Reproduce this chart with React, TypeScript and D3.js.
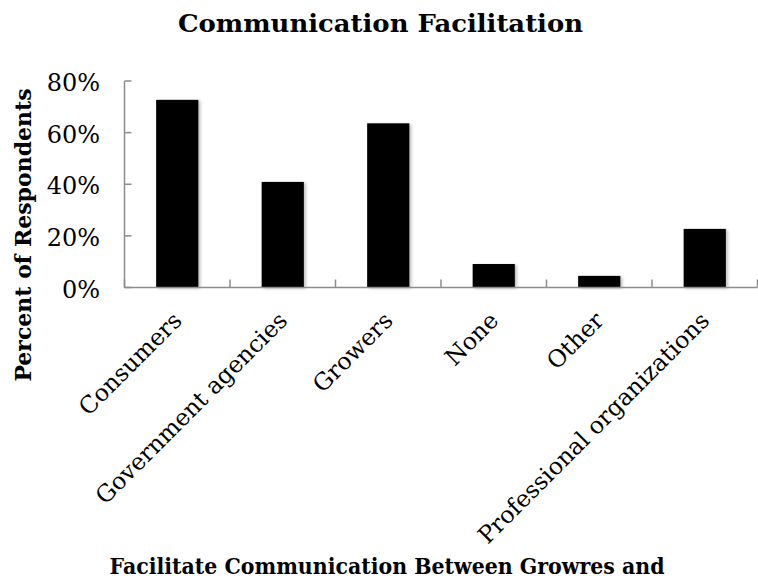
import React from "react";
import * as d3 from "d3";

const categories = ["Consumers", "Government agencies", "Growers", "None", "Other", "Professional organizations"];
const percentValues = [72.7, 40.9, 63.6, 9.1, 4.5, 22.7];
const yTicks = [0, 20, 40, 60, 80];
const titleText = "Communication Facilitation";
const yAxisTitle = "Percent of Respondents";
const xAxisTitle = "Facilitate Communication Between Growres and";

const W = 758;
const H = 581;
const FONT = "'DejaVu Serif', serif";
const AXIS = "#8c8c8c";

export default function App() {
  const x = d3.scaleBand<string>().domain(categories).range([124.5, 757.5]).paddingInner(0.6).paddingOuter(0.3);
  const band = d3.scaleBand<string>().domain(categories).range([124.5, 757.5]);
  const y = d3.scaleLinear().domain([0, 80]).range([287.5, 81]);
  const bounds = [...categories.map((c) => band(c)!), 757.5];

  return (
    <svg width={W} height={H} style={{ position: "absolute", left: 0, top: 0, background: "#fff" }}>
      <defs>
        <filter id="sh" x="-20%" y="-20%" width="140%" height="140%">
          <feDropShadow dx="2" dy="1" stdDeviation="1.5" floodColor="#000" floodOpacity="0.25" />
        </filter>
      </defs>
      <text x={380.5} y={32} textAnchor="middle" fontFamily={FONT} fontWeight="bold" fontSize={25} textLength={405} lengthAdjust="spacingAndGlyphs">
        {titleText}
      </text>
      {categories.map((c, i) => (
        <rect key={c} x={x(c)} y={y(percentValues[i])} width={x.bandwidth()} height={y(0) - y(percentValues[i])} fill="#000" filter="url(#sh)" />
      ))}
      <line x1={124.5} x2={124.5} y1={y(80)} y2={y(0)} stroke={AXIS} strokeWidth={1.5} />
      {yTicks.map((t) => (
        <g key={t}>
          <line x1={124.5} x2={131.5} y1={y(t)} y2={y(t)} stroke={AXIS} strokeWidth={1.5} />
          <text x={100} y={y(t) + 2} textAnchor="end" dominantBaseline="central" fontFamily={FONT} fontSize={24}>
            {t}%
          </text>
        </g>
      ))}
      <line x1={124.5} x2={757.5} y1={y(0)} y2={y(0)} stroke={AXIS} strokeWidth={1.5} />
      {bounds.map((b, i) => (
        <line key={i} x1={b} x2={b} y1={y(0)} y2={y(0) - 8} stroke={AXIS} strokeWidth={1.5} />
      ))}
      {categories.map((c) => {
        const cx = band(c)! + band.bandwidth() / 2 + 6;
        return (
          <text key={c} x={cx} y={322} textAnchor="end" transform={`rotate(-45 ${cx} 322)`} fontFamily={FONT} fontSize={23.5}>
            {c}
          </text>
        );
      })}
      <text transform={`translate(31,235) rotate(-90)`} textAnchor="middle" fontFamily={FONT} fontWeight="bold" fontSize={22}>
        {yAxisTitle}
      </text>
      <text x={387} y={574} textAnchor="middle" fontFamily={FONT} fontWeight="bold" fontSize={23} textLength={555} lengthAdjust="spacingAndGlyphs">
        {xAxisTitle}
      </text>
    </svg>
  );
}
